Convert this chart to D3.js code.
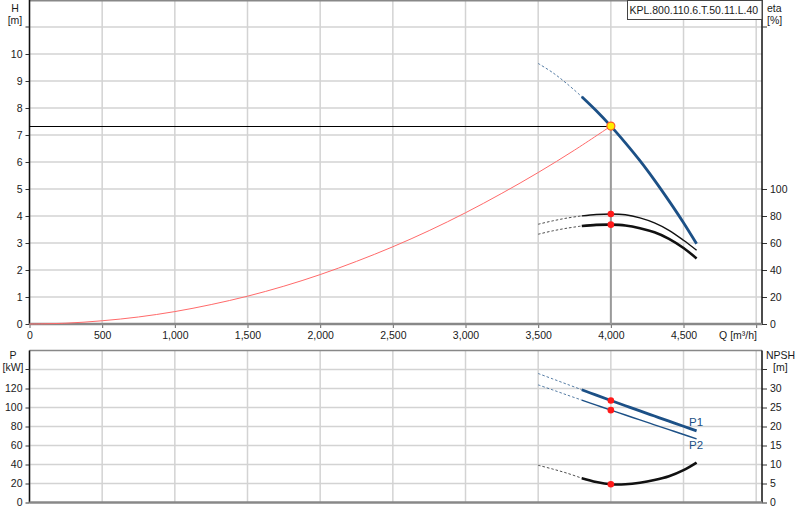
<!DOCTYPE html>
<html>
<head>
<meta charset="utf-8">
<script src="https://cdn.jsdelivr.net/npm/d3@7/dist/d3.min.js"></script>
<style>
body{margin:0;background:#fff;}
svg{display:block;font-family:"Liberation Sans",Arial,sans-serif;}
</style>
</head>
<body>
<svg id="chart" width="800" height="520"></svg>
<script>
// ---- data ----
const qFlow    = [3500, 3600, 3700, 3800, 3900, 4000, 4100, 4200, 4300, 4400, 4500, 4590];
const headH    = [9.65, 9.31, 8.89, 8.42, 7.90, 7.33, 6.71, 6.05, 5.33, 4.56, 3.75, 2.97];
const etaUpper = [73.9, 76.4, 78.5, 80.1, 81.1, 81.5, 80.9, 78.6, 74.9, 69.4, 62.0, 54.6];
const etaLower = [66.5, 69.0, 71.0, 72.6, 73.4, 73.6, 73.0, 71.0, 67.9, 63.1, 56.3, 48.6];
const powerP1  = [135.8, 130.1, 124.4, 118.7, 113.0, 107.4, 101.9, 96.4, 91.0, 85.6, 80.3, 75.4];
const powerP2  = [123.8, 118.5, 113.1, 107.8, 102.5, 97.2, 92.1, 86.9, 81.8, 76.7, 71.6, 67.0];
const npshR    = [9.8, 8.8, 7.7, 6.4, 5.4, 4.8, 4.8, 5.2, 5.9, 6.9, 8.5, 10.5];
const sysQ     = [0, 250, 500, 750, 1000, 1250, 1500, 1750, 2000, 2250, 2500, 2750, 3000, 3250, 3500, 3750, 4000];
const sysH     = [0, 0.03, 0.12, 0.26, 0.46, 0.72, 1.03, 1.40, 1.83, 2.32, 2.86, 3.46, 4.12, 4.84, 5.61, 6.44, 7.33];
const opQ = 4000, opH = 7.33;
const dashEndQ = 3800;
const qTicks   = [0, 500, 1000, 1500, 2000, 2500, 3000, 3500, 4000, 4500, 5000];
const hTicks   = [0, 1, 2, 3, 4, 5, 6, 7, 8, 9, 10];
const etaTicks = [0, 20, 40, 60, 80, 100];
const pTicks   = [0, 20, 40, 60, 80, 100, 120];
const npTicks  = [0, 5, 10, 15, 20, 25, 30];
const title = "KPL.800.110.6.T.50.11.L.40";

// ---- layout ----
const svg = d3.select("#chart");
const L = 29.5, R = 762;
const topY0 = 0, topY1 = 324, botY0 = 350.5, botY1 = 502.5;
const x = d3.scaleLinear().domain([0, 5040]).range([L, R]);
const yH = d3.scaleLinear().domain([0, 12]).range([topY1, topY0]);
const yEta = d3.scaleLinear().domain([0, 240]).range([topY1, topY0]);
const yP = d3.scaleLinear().domain([0, 160]).range([botY1, botY0]);
const yN = d3.scaleLinear().domain([0, 40]).range([botY1, botY0]);

const gridC = "#d3d3d3", blue = "#1c5086", fs = "10.5px", txtC = "#1a1a1a";

// grid
const grid = svg.append("g").attr("stroke", gridC).attr("stroke-width", 1.5);
qTicks.forEach(q => {
  grid.append("line").attr("x1", x(q)).attr("x2", x(q)).attr("y1", topY0).attr("y2", topY1);
  grid.append("line").attr("x1", x(q)).attr("x2", x(q)).attr("y1", botY0).attr("y2", botY1);
});
d3.range(1, 12).forEach(h => grid.append("line").attr("x1", L).attr("x2", R).attr("y1", yH(h)).attr("y2", yH(h)));
d3.range(20, 160, 20).forEach(p => grid.append("line").attr("x1", L).attr("x2", R).attr("y1", yP(p)).attr("y2", yP(p)));

// frames
svg.append("line").attr("x1", L).attr("x2", R).attr("y1", 0.75).attr("y2", 0.75).attr("stroke", "#888").attr("stroke-width", 1.5);
svg.append("line").attr("x1", L).attr("x2", R).attr("y1", botY0).attr("y2", botY0).attr("stroke", "#888").attr("stroke-width", 1.5);

// axes
function axisLeft(scale, ticks, y0, y1) {
  const g = svg.append("g").attr("transform", `translate(${L},0)`)
    .call(d3.axisLeft(scale).tickValues(ticks).tickSize(4).tickPadding(3).tickFormat(d3.format("d")));
  g.select(".domain").remove();
  g.selectAll("line").attr("stroke", "#333");
  g.selectAll("text").attr("font-size", fs).attr("fill", txtC).attr("font-family", null);
  svg.append("line").attr("x1", L).attr("x2", L).attr("y1", y0).attr("y2", y1).attr("stroke", "#111").attr("stroke-width", 1.5);
}
function axisRight(scale, ticks, y0, y1) {
  const g = svg.append("g").attr("transform", `translate(${R},0)`)
    .call(d3.axisRight(scale).tickValues(ticks).tickSize(5).tickPadding(3).tickFormat(d3.format("d")));
  g.select(".domain").remove();
  g.selectAll("line").attr("stroke", "#333");
  g.selectAll("text").attr("font-size", fs).attr("fill", txtC).attr("font-family", null);
  svg.append("line").attr("x1", R).attr("x2", R).attr("y1", y0).attr("y2", y1).attr("stroke", "#111").attr("stroke-width", 1.5);
}
axisLeft(yH, hTicks, topY0, topY1);
axisRight(yEta, etaTicks, topY0, topY1);
axisLeft(yP, pTicks, botY0, botY1);
axisRight(yN, npTicks, botY0, botY1);
// unlabeled ticks at unit rows
[[L - 4, L, yH(11)], [R, R + 5, yH(11)], [L - 4, L, yP(140)], [R, R + 5, yN(35)]].forEach(t =>
  svg.append("line").attr("x1", t[0]).attr("x2", t[1]).attr("y1", t[2]).attr("y2", t[2]).attr("stroke", "#333"));

// x axis (top panel)
const gx = svg.append("g").attr("transform", `translate(0,${topY1})`)
  .call(d3.axisBottom(x).tickValues(qTicks).tickSize(4).tickPadding(4)
    .tickFormat(d => d === 5000 ? "" : d3.format(",")(d)));
gx.select(".domain").remove();
gx.selectAll("line").attr("stroke", "#666");
gx.selectAll("text").attr("font-size", fs).attr("fill", txtC).attr("font-family", null);
svg.append("line").attr("x1", L).attr("x2", R).attr("y1", topY1).attr("y2", topY1).attr("stroke", "#888").attr("stroke-width", 2.5);
svg.append("line").attr("x1", L).attr("x2", R).attr("y1", botY1).attr("y2", botY1).attr("stroke", "#888").attr("stroke-width", 2.5);

// axis labels
function label(t, xx, yy, anchor) {
  svg.append("text").attr("x", xx).attr("y", yy).attr("text-anchor", anchor || "middle")
    .attr("font-size", fs).attr("fill", txtC).text(t);
}
label("H", 15, 12); label("[m]", 15, 24);
label("P", 13, 359); label("[kW]", 13, 371);
label("eta", 767, 12, "start"); label("[%]", 767, 24, "start");
label("NPSH", 766, 359, "start"); label("[m]", 773, 371, "start");
label("Q [m³/h]", 757, 339, "end");

// legend box
svg.append("rect").attr("x", 627.5).attr("y", 0.5).attr("width", 134.5).attr("height", 19)
  .attr("fill", "#fff").attr("stroke", "#444").attr("stroke-width", 1);
svg.append("text").attr("x", 629.5).attr("y", 14).attr("font-size", fs).attr("fill", txtC).text(title);

// curves
const pts = (ys) => qFlow.map((q, i) => [q, ys[i]]);
function drawCurve(ys, yScale, color, width) {
  const line = d3.line().x(d => x(d[0])).y(d => yScale(d[1])).curve(d3.curveCatmullRom.alpha(0.5));
  const all = pts(ys);
  const dashed = all.filter(d => d[0] <= dashEndQ);
  const solid = all.filter(d => d[0] >= dashEndQ);
  svg.append("path").attr("d", line(dashed)).attr("fill", "none").attr("stroke", color)
    .attr("stroke-width", 1).attr("stroke-dasharray", "2.5,2").attr("opacity", 0.75);
  svg.append("path").attr("d", line(solid)).attr("fill", "none").attr("stroke", color)
    .attr("stroke-width", width).attr("stroke-linecap", "butt");
}

// system curve
svg.append("path")
  .attr("d", d3.line().x(d => x(d)).y((d, i) => yH(sysH[i])).curve(d3.curveCatmullRom.alpha(0.5))(sysQ))
  .attr("fill", "none").attr("stroke", "#ff6a6a").attr("stroke-width", 1);

// operating lines
svg.append("line").attr("x1", L).attr("x2", x(opQ)).attr("y1", Math.round(yH(opH)) + 0.5).attr("y2", Math.round(yH(opH)) + 0.5)
  .attr("stroke", "#000").attr("stroke-width", 1);
svg.append("line").attr("x1", x(opQ)).attr("x2", x(opQ)).attr("y1", yH(opH)).attr("y2", topY1)
  .attr("stroke", "#9a9a9a").attr("stroke-width", 2);

drawCurve(headH, yH, blue, 2.8);
drawCurve(etaUpper, yEta, "#111", 1.4);
drawCurve(etaLower, yEta, "#111", 2.6);
drawCurve(powerP1, yP, blue, 2.8);
drawCurve(powerP2, yP, blue, 1.4);
drawCurve(npshR, yN, "#111", 2.6);

// P labels
svg.append("text").attr("x", 689).attr("y", 426).attr("font-size", "11.5px").attr("fill", blue).text("P1");
svg.append("text").attr("x", 689).attr("y", 449).attr("font-size", "11.5px").attr("fill", blue).text("P2");

// duty points
const iOp = qFlow.indexOf(opQ);
[[yEta, etaUpper], [yEta, etaLower], [yP, powerP1], [yP, powerP2], [yN, npshR]].forEach(([s, arr]) =>
  svg.append("circle").attr("cx", x(opQ)).attr("cy", s(arr[iOp])).attr("r", 3.3).attr("fill", "#ff1a1a"));
svg.append("circle").attr("cx", x(opQ)).attr("cy", yH(opH)).attr("r", 4)
  .attr("fill", "#ffee00").attr("stroke", "#ff5a2a").attr("stroke-width", 1.2);
</script>
</body>
</html>
